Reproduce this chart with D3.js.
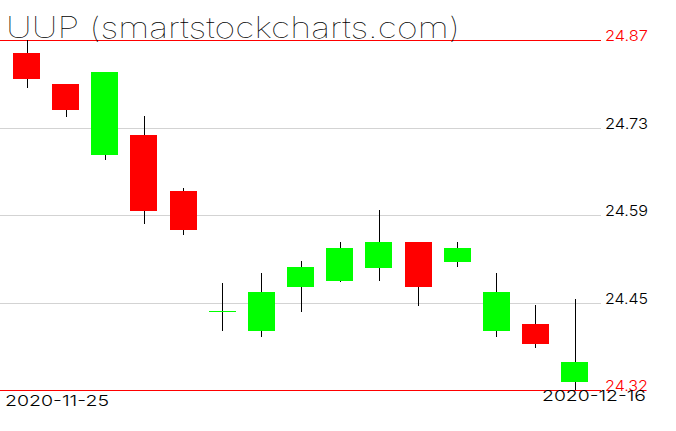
<!DOCTYPE html>
<html>
<head>
<meta charset="utf-8">
<script src="https://cdn.jsdelivr.net/npm/d3@7"></script>
<style>
html,body{margin:0;padding:0;background:#fff;}
svg{display:block;}
</style>
</head>
<body>
<svg id="chart" width="676" height="431"></svg>
<script>
const dates = ["2020-11-25","2020-11-27","2020-11-30","2020-12-01","2020-12-02","2020-12-03","2020-12-04","2020-12-07","2020-12-08","2020-12-09","2020-12-10","2020-12-11","2020-12-14","2020-12-15","2020-12-16"];
const open  = [24.849,24.800,24.688,24.719,24.631,24.440,24.409,24.479,24.488,24.508,24.550,24.518,24.409,24.420,24.328];
const high  = [24.870,24.800,24.820,24.749,24.635,24.485,24.500,24.520,24.550,24.600,24.550,24.550,24.500,24.450,24.459];
const low   = [24.794,24.748,24.679,24.579,24.560,24.409,24.399,24.439,24.487,24.488,24.448,24.510,24.399,24.382,24.315];
const close = [24.808,24.759,24.819,24.599,24.569,24.440,24.470,24.510,24.540,24.550,24.478,24.540,24.470,24.388,24.359];
const tickValues = [24.87,24.73125,24.5925,24.45375,24.315];
const tickLabels = ["24.87","24.73","24.59","24.45","24.32"];
const dateLabels = ["2020-11-25","2020-12-16"];
const title = "UUP (smartstockcharts.com)";

const svg = d3.select("#chart");
const x = d3.scalePoint().domain(dates).range([26.5, 574.6]);
const y = d3.scaleLinear().domain([24.315, 24.87]).range([390, 40]);
const bodyW = 27;

const data = dates.map((d,i)=>({d, o:open[i], h:high[i], l:low[i], c:close[i]}));

// grid lines
const grid = svg.append("g").attr("shape-rendering","crispEdges");
tickValues.forEach((v,i)=>{
  const edge = (i===0 || i===tickValues.length-1);
  const yy = Math.round(y(v)) + 0.5;
  grid.append("line").attr("x1",0).attr("x2",601).attr("y1",yy).attr("y2",yy)
    .attr("stroke", edge ? "#ff0000" : "#d3d3d3").attr("stroke-width",1);
});

// title
svg.append("text").attr("x",6).attr("y",37.5)
  .attr("font-family","Inter, DejaVu Sans").attr("font-weight",100).attr("font-size",29)
  .attr("textLength",454).attr("lengthAdjust","spacingAndGlyphs")
  .attr("fill","#000").text(title);

// candles
const g = svg.append("g").attr("shape-rendering","crispEdges");
data.forEach(k=>{
  const cx = Math.round(x(k.d)) + 0.5;
  g.append("line").attr("x1",cx).attr("x2",cx).attr("y1",y(k.h)).attr("y2",y(k.l))
    .attr("stroke","#000").attr("stroke-width",1);
  const up = k.c >= k.o;
  const col = up ? "#00ff00" : "#ff0000";
  const top = y(Math.max(k.o,k.c)), bot = y(Math.min(k.o,k.c));
  if (bot - top < 1) {
    const yy = Math.round(top)+0.5;
    g.append("line").attr("x1",cx-bodyW/2).attr("x2",cx+bodyW/2).attr("y1",yy).attr("y2",yy)
      .attr("stroke",col).attr("stroke-width",1);
  } else {
    g.append("rect").attr("x",Math.round(x(k.d)-bodyW/2)).attr("width",bodyW)
      .attr("y",top).attr("height",bot-top).attr("fill",col);
  }
});

const lblFont = "Inter, DejaVu Sans";
const lblW = 300;
// y labels
tickValues.forEach((v,i)=>{
  const edge = (i===0 || i===tickValues.length-1);
  svg.append("text").attr("x",605).attr("y",Math.round(y(v))+1)
    .attr("font-family",lblFont).attr("font-weight",lblW).attr("font-size",15)
    .attr("textLength",43).attr("lengthAdjust","spacingAndGlyphs")
    .attr("fill", edge ? "#ff0000" : "#000").text(tickLabels[i]);
});

// date labels
svg.append("text").attr("x",5).attr("y",406)
  .attr("font-family",lblFont).attr("font-weight",lblW).attr("font-size",15)
  .attr("textLength",104).attr("lengthAdjust","spacingAndGlyphs")
  .attr("fill","#000").text(dateLabels[0]);
svg.append("text").attr("x",542).attr("y",401)
  .attr("font-family",lblFont).attr("font-weight",lblW).attr("font-size",15)
  .attr("textLength",104).attr("lengthAdjust","spacingAndGlyphs")
  .attr("fill","#000").text(dateLabels[1]);
</script>
</body>
</html>
